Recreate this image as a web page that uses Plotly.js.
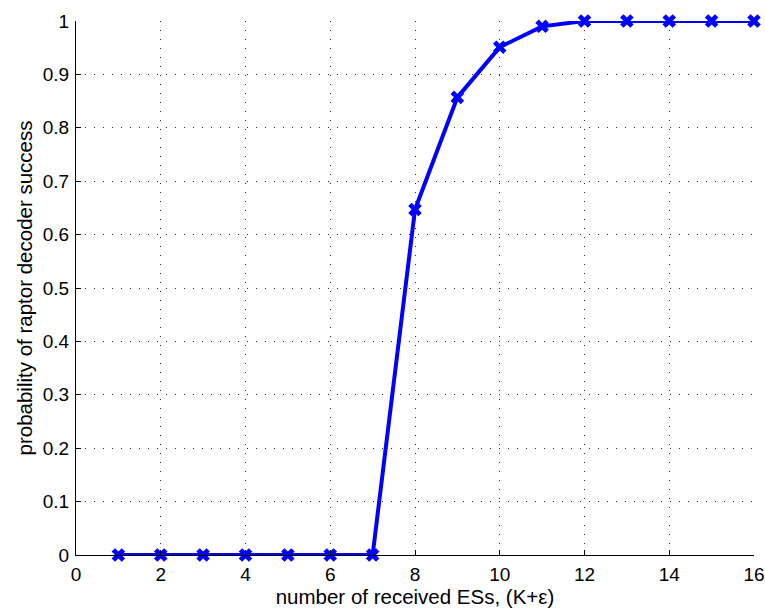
<!DOCTYPE html>
<html><head><meta charset="utf-8">
<script src="https://cdn.plot.ly/plotly-3.0.1.min.js"></script>
<style>body{margin:0;background:#fff}#c{width:765px;height:608px}</style>
</head><body><div id="c"></div>
<script>
const receivedESs = [1,2,3,4,5,6,7,8,9,10,11,12,13,14,15,16];
const successProb = [0,0,0,0,0,0,0,0.647,0.857,0.951,0.990,1,1,1,1,1];
const xTicks = [0,2,4,6,8,10,12,14,16];
const yTicks = [0,0.1,0.2,0.3,0.4,0.5,0.6,0.7,0.8,0.9,1];
const yTickText = ['0','0.1','0.2','0.3','0.4','0.5','0.6','0.7','0.8','0.9','1'];

const FONT = 'Liberation Sans, Arial, Helvetica, sans-serif';
const axisCommon = {
  showline:true, linecolor:'#000', linewidth:1, mirror:false,
  ticks:'inside', ticklen:5, tickcolor:'#000',
  showgrid:true, gridcolor:'#333', griddash:'1px,8px', gridwidth:1,
  zeroline:false,
  tickfont:{family:FONT, size:19, color:'#000'}
};
Plotly.newPlot('c', [{
  x: receivedESs, y: successProb, type:'scatter', mode:'lines+markers',
  line:{color:'#0000ff', width:4},
  marker:{symbol:'x', size:12, color:'#0000ff', line:{width:0}},
  cliponaxis:false
}], {
  width:765, height:608,
  margin:{l:76, r:11, t:21, b:53},
  paper_bgcolor:'#fff', plot_bgcolor:'#fff',
  showlegend:false,
  xaxis: Object.assign({}, axisCommon, {
    range:[0,16], tickvals:xTicks, ticktext:xTicks.map(String), ticklabelstandoff:2,
    title:{text:'number of received ESs, (K+ε)', font:{family:FONT, size:20.5, color:'#000'}, standoff:0}
  }),
  yaxis: Object.assign({}, axisCommon, {
    range:[0,1], tickvals:yTicks, ticktext:yTickText, ticklabelstandoff:2,
    title:{text:'probability of raptor decoder success', font:{family:FONT, size:20.5, color:'#000'}, standoff:4}
  })
}, {displayModeBar:false, staticPlot:true});
</script></body></html>
